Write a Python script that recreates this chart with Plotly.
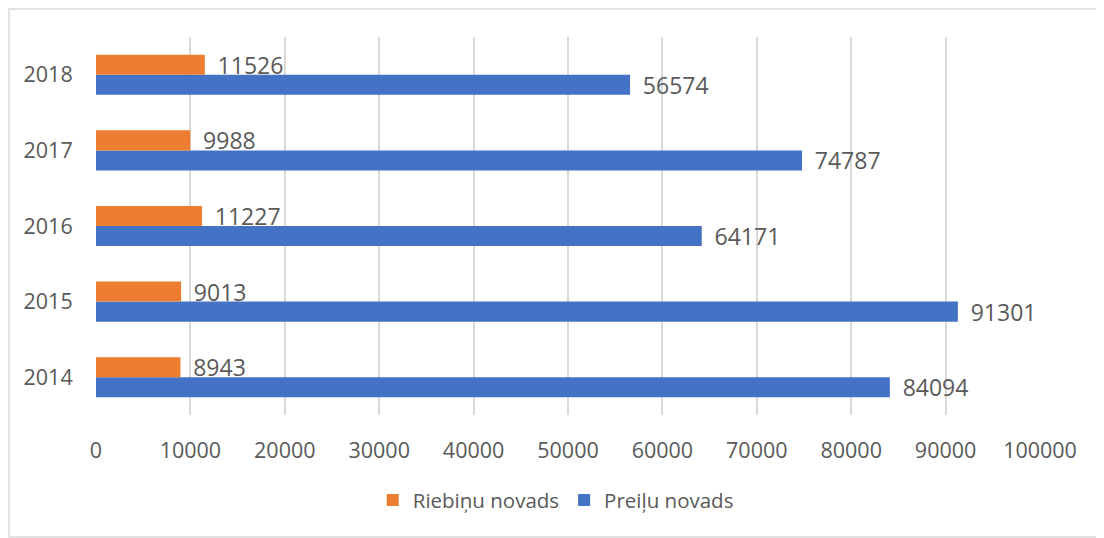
import plotly.graph_objects as go

# ── Data ──────────────────────────────────────────────────────────────────────
years     = ["2014", "2015", "2016", "2017", "2018"]
riebinu   = [8943, 9013, 11227, 9988, 11526]
preilu    = [84094, 91301, 64171, 74787, 56574]
x_ticks   = [0, 10000, 20000, 30000, 40000, 50000, 60000, 70000, 80000, 90000, 100000]

_ORANGE = "#ED7D31"
_BLUE   = "#4472C4"
_GREY   = "#595959"
_GRID   = "#D9D9D9"
_FONT   = "Open Sans"

# the page body adds an 8px offset, so the figure is 8px smaller than the window
fig = go.Figure()

# blue first so that it sits below the orange bar in each group
fig.add_trace(go.Bar(
    y            = years,
    x            = preilu,
    orientation  = "h",
    name         = "Preiļu novads",
    marker       = dict(color=_BLUE, line=dict(width=0)),
    text         = ["\u00a0\u2009" + str(v) for v in preilu],
    textposition = "outside",
    textfont     = dict(color=_GREY, size=23, family=_FONT),
    constraintext = "none",
    cliponaxis   = False,
))
fig.add_trace(go.Bar(
    y            = years,
    x            = riebinu,
    orientation  = "h",
    name         = "Riebiņu novads",
    marker       = dict(color=_ORANGE, line=dict(width=0)),
    text         = ["\u00a0\u2009" + str(v) for v in riebinu],
    textposition = "outside",
    textfont     = dict(color=_GREY, size=23, family=_FONT),
    constraintext = "none",
    cliponaxis   = False,
))

fig.update_layout(
    width         = 1096,
    height        = 530,
    paper_bgcolor = "#FFFFFF",
    plot_bgcolor  = "#FFFFFF",
    font          = dict(family=_FONT, size=21, color=_GREY),
    barmode       = "group",
    bargap        = 0.47,
    bargroupgap   = 0,
    margin        = dict(l=88, r=64, t=29, b=123),
    xaxis = dict(
        range      = [0, 100000],
        tickvals   = x_ticks,
        tickformat = "d",
        showgrid   = True,
        gridcolor  = _GRID,
        gridwidth  = 2,
        zeroline   = False,
        showline   = False,
        ticks      = "outside",
        ticklen    = 16,
        tickcolor  = "rgba(0,0,0,0)",
        tickfont   = dict(size=21.5, color=_GREY),
    ),
    yaxis = dict(
        showgrid   = False,
        zeroline   = False,
        showline   = False,
        ticks      = "outside",
        ticklen    = 18,
        tickcolor  = "rgba(0,0,0,0)",
        tickfont   = dict(size=21.5, color=_GREY),
    ),
    legend = dict(
        orientation = "h",
        x           = 0.487,
        xanchor     = "center",
        y           = -0.225,
        yanchor     = "middle",
        traceorder  = "reversed",
        font        = dict(size=20.5, color=_GREY),
        itemsizing  = "constant",
    ),
    shapes = [dict(
        type = "rect",
        xref = "paper", yref = "paper",
        x0 = -0.0922, x1 = 1.0636,
        y0 = -0.3228, y1 = 1.0741,
        line = dict(color=_GRID, width=1.5),
        fillcolor = "rgba(0,0,0,0)",
        layer = "below",
    )],
    showlegend = True,
)

fig.write_html("out.html")
